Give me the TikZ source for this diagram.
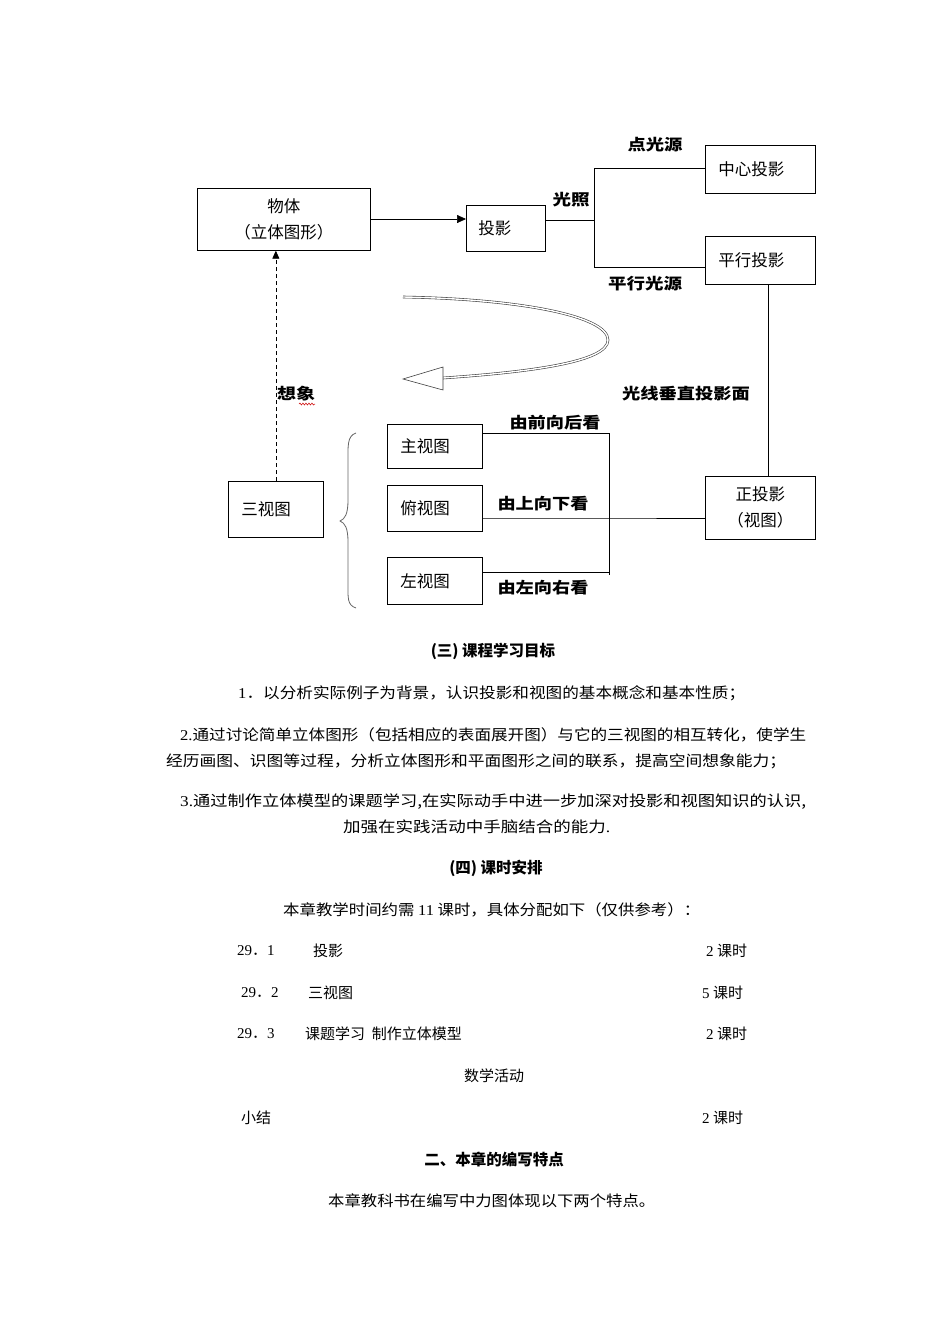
\documentclass[tikz,border=0pt]{standalone}
\usepackage{fontspec}
\usepackage{graphicx}
\setmainfont{Noto Sans CJK SC}
\newfontfamily\numf{Liberation Serif}
\usetikzlibrary{arrows.meta,decorations.pathmorphing}
\newcommand{\fitw}[2]{\resizebox{#1}{\height}{#2}}
\begin{document}
\begin{tikzpicture}[x=1pt,y=-1pt,
  box/.style={draw, line width=0.7pt, inner ysep=0pt, anchor=north west},
  dtext/.style={font=\fontsize{16.5}{26}\selectfont},
  lab/.style={font=\fontsize{15.5}{16}\selectfont\bfseries, inner sep=0pt},
  body/.style={font=\fontsize{15}{16}\selectfont, inner sep=0pt, anchor=west},
  head/.style={font=\fontsize{15.5}{16}\selectfont\bfseries, inner sep=0pt},
  conn/.style={line width=0.7pt},
  bandline/.style={draw=black!75, line width=0.6pt, double=white, double distance=1.4pt}
]
\fill[white] (0,0) rectangle (950,1344);
\useasboundingbox (0,0) rectangle (950,1344);

% ---------- boxes ----------
\node[box, dtext, minimum height=62pt, inner xsep=0pt, text width=173pt, align=center] (wt) at (197,188) {物体\\（立体图形）};
\node[box, dtext, minimum height=46pt, inner xsep=12pt, text width=55pt, align=left] (ty) at (466,205) {投影};
\node[box, dtext, minimum height=48pt, inner xsep=13pt, text width=84pt, align=left] (zx) at (705,145) {中心投影};
\node[box, dtext, minimum height=48pt, inner xsep=13pt, text width=84pt, align=left] (px) at (705,236) {平行投影};
\node[box, dtext, minimum height=63pt, inner xsep=0pt, text width=110pt, align=center] (zty) at (705,476) {正投影\\（视图）};
\node[box, dtext, minimum height=56pt, inner xsep=13pt, text width=69pt, align=left] (sv) at (228,481) {三视图};
\node[box, dtext, minimum height=44pt, inner xsep=13pt, text width=69pt, align=left] (zs) at (387,424) {主视图};
\node[box, dtext, minimum height=46pt, inner xsep=13pt, text width=69pt, align=left] (fs) at (387,485) {俯视图};
\node[box, dtext, minimum height=47pt, inner xsep=13pt, text width=69pt, align=left] (ls) at (387,557) {左视图};

% ---------- junction coordinates ----------
\coordinate (j0) at (594,220);
\coordinate (jt) at (594,168);
\coordinate (jb) at (594,267);
\coordinate (v1) at (768,300);
\coordinate (k1) at (609,433);
\coordinate (k2) at (609,518);
\coordinate (k3) at (609,575);
\coordinate (k3b) at (609,572);

% ---------- connectors ----------
\draw[conn, -{Triangle[length=9pt,width=8pt]}] (wt.east |- 0,219) -- (ty.west |- 0,219);
\draw[conn] (ty.east |- j0) -- (j0);
\draw[conn] (jt) -- (jb);
\draw[conn] (jt) -- (zx.west |- jt);
\draw[conn] (jb) -- (px.west |- jb);
\draw[conn] (px.south -| v1) -- (zty.north -| v1);
\draw[conn] (zs.east |- k1) -- (k1) -- (k3);
\draw[conn] (fs.east |- k2) -- (k2) -- (zty.west |- k2);
\draw[conn] (ls.east |- k3b) -- (k3b);
\draw[conn, dashed, dash pattern=on 4pt off 3pt, -{Triangle[length=8pt,width=7pt]}] (sv.north) -- (sv.north |- wt.south);

% ---------- curved hollow arrow ----------
\coordinate (ca) at (403,297);
\coordinate (cb) at (608,340);
\coordinate (cc) at (443,378);
\coordinate (ct) at (403,379);
\path[bandline] (ca) .. controls (520,299) and (608,316) .. (cb) .. controls (608,362) and (530,372) .. (cc);
\filldraw[fill=white, draw=black!75, line width=0.6pt] (ct) -- (443,367) -- (443,390) -- cycle;

% ---------- brace ----------
\draw[black!60, line width=0.8pt] (356,433) .. controls (347,436) and (348,446) .. (348,462) -- (348,500)
  .. controls (348,514) and (345,519) .. (340,521)
  .. controls (345,523) and (348,528) .. (348,542) -- (348,582)
  .. controls (348,598) and (347,605) .. (356,608);

% ---------- labels ----------
\node[lab] (l1) at (655,145) {\fitw{55pt}{点光源}};
\node[lab] (l2) at (571,200) {\fitw{37pt}{光照}};
\node[lab] (l3) at (645,284) {\fitw{74pt}{平行光源}};
\node[lab] (l4) at (686,394) {\fitw{128pt}{光线垂直投影面}};
\node[lab] (l5) at (296,394) {\fitw{38pt}{想象}};
\draw[red!80!black, line width=0.5pt, decorate, decoration={snake, amplitude=1pt, segment length=3pt}] (299,404) -- (315,404);
\node[lab] (l6) at (555,423) {\fitw{91pt}{由前向后看}};
\node[lab] (l7) at (543,504) {\fitw{91pt}{由上向下看}};
\node[lab] (l8) at (543,588) {\fitw{91pt}{由左向右看}};

% ---------- text below ----------
\node[head] (h1) at (493,651) {(三) 课程学习目标};
\node[body] (t1) at (238,693) {\fitw{507pt}{{\numf 1}．以分析实际例子为背景，认识投影和视图的基本概念和基本性质；}};
\node[body] (t2) at (180,735) {\fitw{626pt}{{\numf 2.}通过讨论简单立体图形（包括相应的表面展开图）与它的三视图的相互转化，使学生}};
\node[body] (t3) at (166,761) {\fitw{620pt}{经历画图、识图等过程，分析立体图形和平面图形之间的联系，提高空间想象能力；}};
\node[body] (t4) at (180,802) {\fitw{626pt}{{\numf 3.}通过制作立体模型的课题学习,在实际动手中进一步加深对投影和视图知识的认识,}};
\node[body] (t5) at (343,827) {\fitw{267pt}{加强在实践活动中手脑结合的能力{\numf .}}};
\node[head] (h2) at (496,868) {(四) 课时安排};
\node[body] (t6) at (283,910) {\fitw{417pt}{本章教学时间约需 {\numf 11} 课时，具体分配如下（仅供参考）：}};
\node[body] (r1a) at (237,951) {{\numf 29}．{\numf 1}};
\node[body] (r1b) at (313,951) {投影};
\node[body] (r1c) at (706,951) {{\numf 2} 课时};
\node[body] (r2a) at (241,993) {{\numf 29}．{\numf 2}};
\node[body] (r2b) at (308,993) {三视图};
\node[body] (r2c) at (702,993) {{\numf 5} 课时};
\node[body] (r3a) at (237,1034) {{\numf 29}．{\numf 3}};
\node[body] (r3b) at (305,1034) {课题学习\ \ 制作立体模型};
\node[body] (r3c) at (706,1034) {{\numf 2} 课时};
\node[body, anchor=center] (r4) at (494,1076) {数学活动};
\node[body] (r5a) at (241,1118) {小结};
\node[body] (r5c) at (702,1118) {{\numf 2} 课时};
\node[head] (h3) at (494,1160) {二、本章的编写特点};
\node[body] (t7) at (328,1201) {\fitw{327pt}{本章教科书在编写中力图体现以下两个特点。}};
\end{tikzpicture}
\end{document}
